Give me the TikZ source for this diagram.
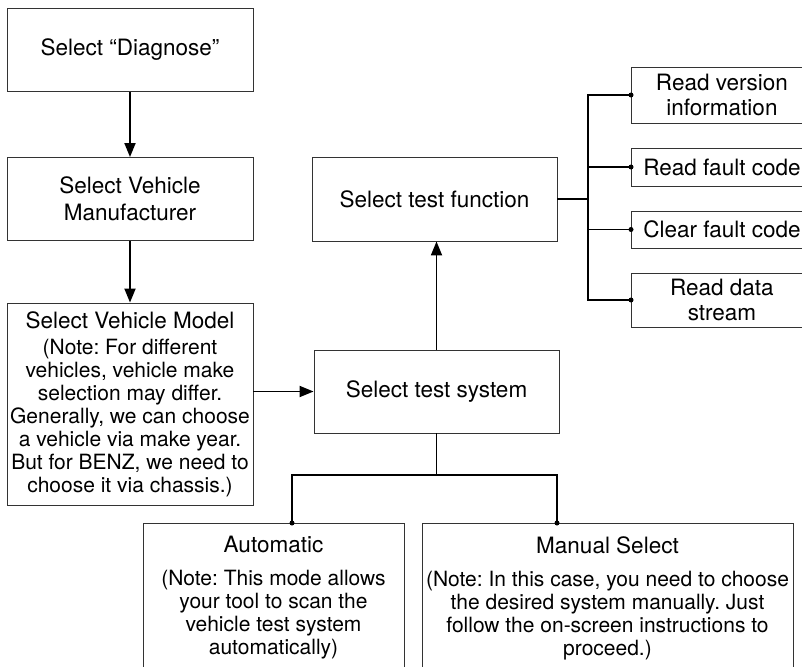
\documentclass[tikz,border=0pt]{standalone}
\usepackage{fontspec}
\setmainfont{TeX Gyre Heros}
\usetikzlibrary{arrows.meta}
\frenchspacing

\newcommand{\titlesize}{\fontsize{22.5}{25}\selectfont}
\newcommand{\notesize}{\fontsize{21}{23}\selectfont}

\tikzset{
  flowbox/.style={draw=black!80, line width=0.9pt, align=center, inner sep=0pt,
    font=\titlesize},
  notebox/.style={flowbox, anchor=north, inner ysep=13pt, font=\notesize},
  funcbox/.style={flowbox, anchor=west, minimum width=181pt},
  link/.style={line width=1.8pt, -{Triangle[length=14pt,width=11pt]}},
  bus/.style={line width=1.8pt},
  bullet/.style={circle, fill, inner sep=0pt, minimum size=5pt}
}

\begin{document}
\begin{tikzpicture}[x=1pt, y=-1pt]
\useasboundingbox (0,0) rectangle (802,666);
\clip (0,0) rectangle (802,666);

% left column
\node[flowbox, minimum width=246pt, minimum height=83pt] (diag) at (130,50) {Select “Diagnose”};
\node[flowbox, minimum width=246pt, minimum height=83pt] (maker) at (130,199) {Select Vehicle\\[2pt]Manufacturer};
\node[flowbox, minimum width=246pt, minimum height=202pt, font=\notesize] (model) at (130,404)
  {{\titlesize Select Vehicle Model}\\[3pt](Note: For different\\vehicles, vehicle make\\selection may differ.\\Generally, we can choose\\a vehicle via make year.\\But for BENZ, we need to\\choose it via chassis.)};

% middle column
\node[flowbox, minimum width=245pt, minimum height=83pt] (system) at (436.5,391.5) {Select test system};
\node[flowbox, minimum width=245pt, minimum height=84pt] (func) at (434.5,199) {Select test function};

% test functions
\node[funcbox, minimum height=56pt] (version) at (631,95) {Read version\\information};
\node[funcbox, minimum height=38pt] (readcode) at (631,167) {Read fault code};
\node[funcbox, minimum height=37pt] (clearcode) at (631,229.5) {Clear fault code};
\node[funcbox, minimum height=54pt] (stream) at (631,300) {Read data\\stream};

% modes
\node[notebox, minimum width=261pt] (auto) at (273.5,523)
  {{\titlesize Automatic}\\[10pt](Note: This mode allows\\your tool to scan the\\vehicle test system\\automatically)};
\node[notebox, minimum width=371pt] (manual) at (607.5,523)
  {{\titlesize Manual Select}\\[10pt](Note: In this case, you need to choose\\the desired system manually. Just\\follow the on-screen instructions to\\proceed.)};

% connectors
\draw[link] (diag) -- (maker);
\draw[link] (maker) -- (model);
\draw[link] (model.east |- system.west) -- (system.west);
\draw[link] (system.north) -- (system.north |- func.south);

\coordinate (fork) at (588,199);
\draw[bus] (func.east) -- (fork);
\draw[bus] (version.west) -| (fork) |- (stream.west);
\draw[bus] (fork |- readcode.west) -- (readcode.west);
\draw[bus] (fork |- clearcode.west) -- (clearcode.west);
\foreach \n in {version,readcode,clearcode,stream}
  \node[bullet] at (\n.west) {};

\coordinate (split) at (436.5,475);
\coordinate (autoin) at (292,523);
\coordinate (manin) at (557,523);
\draw[bus] (system.south) -- (split);
\draw[bus] (autoin) |- (split) -| (manin);
\node[bullet] at (autoin) {};
\node[bullet] at (manin) {};
\end{tikzpicture}
\end{document}
